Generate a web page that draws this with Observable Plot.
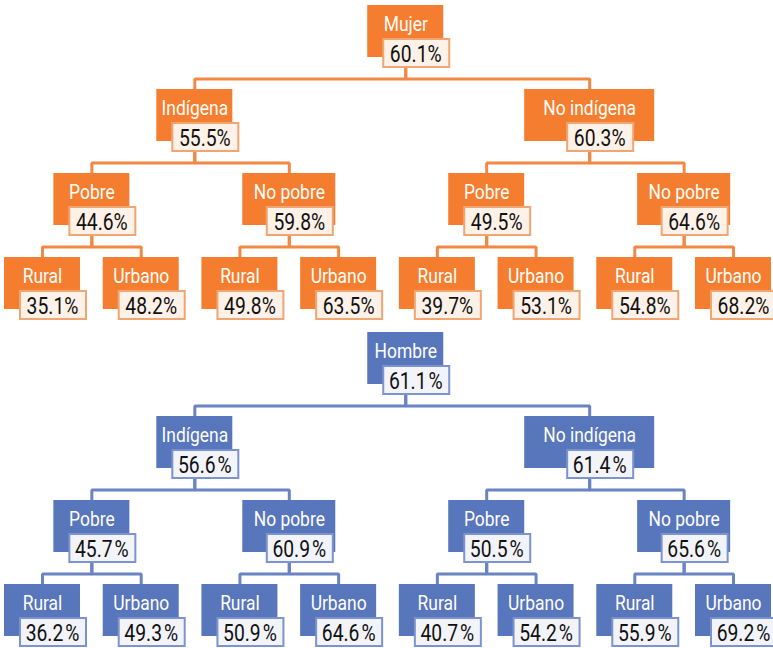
<!DOCTYPE html>
<html>
<head>
<meta charset="utf-8">
<script src="https://cdn.jsdelivr.net/npm/d3@7"></script>
<script src="https://cdn.jsdelivr.net/npm/@observablehq/plot@0.6"></script>
<style>
  html, body { margin: 0; padding: 0; background: #ffffff; }
  #chart svg { display: block; }
</style>
</head>
<body>
<div id="chart"></div>
<script>
// ---- Data ----
const trees = ["Mujer", "Hombre"];
const rootValues = [60.1, 61.1];
const level1Labels = ["Indígena", "No indígena"];
const level2Labels = ["Pobre", "No pobre"];
const level3Labels = ["Rural", "Urbano"];

const mujerLevel1 = [55.5, 60.3];
const mujerLevel2 = [44.6, 59.8, 49.5, 64.6];
const mujerLevel3 = [35.1, 48.2, 49.8, 63.5, 39.7, 53.1, 54.8, 68.2];

const hombreLevel1 = [56.6, 61.4];
const hombreLevel2 = [45.7, 60.9, 50.5, 65.6];
const hombreLevel3 = [36.2, 49.3, 50.9, 64.6, 40.7, 54.2, 55.9, 69.2];

// ---- Styles ----
const palette = {
  Mujer:  {box: "#F47D30", line: "#F38844", vstroke: "#F0A673", vfill: "#FDF1E8", sep: ""},
  Hombre: {box: "#5876BC", line: "#6983C3", vstroke: "#7D93CC", vfill: "#F2F4FA", sep: "\u200A"}
};
const FONT = "Roboto, 'Noto Sans', sans-serif";
const LABEL_SCALE = 0.83, VALUE_SCALE = 0.84;

// layout constants
const X0 = 42, X1 = 733, LEAVES = 8;
const PX = (X1 - X0) / (LEAVES - 1);   // px per x unit
const ROW = 84;                         // px per row
const TREE_GAP = 3.893;                 // rows between trees
const nameW = {"No indígena": 130, "No pobre": 93};
const defaultW = 76;
const NAME_H = 52, VAL_TOP = 34, VAL_H = 28, VAL_W = 66, VAL_DX = 11, LINK_Y = 73.5;
const boxW = label => nameW[label] || defaultW;

// ---- Build tree nodes ----
const valuesByTree = {
  Mujer: [[rootValues[0]], mujerLevel1, mujerLevel2, mujerLevel3],
  Hombre: [[rootValues[1]], hombreLevel1, hombreLevel2, hombreLevel3]
};
const labelsByLevel = [null, level1Labels, level2Labels, level3Labels];

const nodes = [];
trees.forEach((tree, t) => {
  valuesByTree[tree].forEach((vals, level) => {
    vals.forEach((v, i) => {
      const label = level === 0 ? tree : labelsByLevel[level][i % 2];
      nodes.push({
        id: `${tree}-${level}-${i}`,
        tree, level, i, label, value: v,
        parent: level === 0 ? null : `${tree}-${level - 1}-${Math.floor(i / 2)}`,
        row: t * TREE_GAP + level
      });
    });
  });
});
const byId = new Map(nodes.map(d => [d.id, d]));
// leaves evenly spaced; each parent centred over the outer edges of its children's boxes
for (let level = 3; level >= 0; level--) {
  nodes.filter(d => d.level === level).forEach(d => {
    if (level === 3) { d.x = d.i; return; }
    const kids = nodes.filter(k => k.parent === d.id);
    const left = kids[0].x - boxW(kids[0].label) / 2 / PX;
    const right = kids[1].x + boxW(kids[1].label) / 2 / PX;
    d.x = (left + right) / 2;
  });
}

// link polylines (elbow connectors)
const links = [];
nodes.filter(d => d.parent).forEach(d => {
  const p = byId.get(d.parent);
  const yMid = p.row + LINK_Y / ROW;
  [[p.x, p.row + (VAL_TOP + VAL_H) / ROW], [p.x, yMid], [d.x, yMid], [d.x, d.row]]
    .forEach(([x, y]) => links.push({id: d.id, tree: d.tree, x, y}));
});

const marks = [];
trees.forEach(tree => {
  const c = palette[tree];
  const N = nodes.filter(d => d.tree === tree);
  const L = links.filter(d => d.tree === tree);
  marks.push(
    Plot.line(L, {x: "x", y: "y", z: "id", stroke: c.line, strokeWidth: 3, strokeLinejoin: "miter"}),
    Plot.rect(N, {
      x1: d => d.x - boxW(d.label) / 2 / PX,
      x2: d => d.x + boxW(d.label) / 2 / PX,
      y1: d => d.row,
      y2: d => d.row + NAME_H / ROW,
      fill: c.box
    }),
    Plot.text(N, {
      x: "x", y: d => d.row + 18.5 / ROW, text: "label",
      fill: "#FFFDF8", fontSize: 21, fontFamily: FONT, className: "lbl"
    }),
    Plot.rect(N, {
      x1: d => d.x + (VAL_DX - VAL_W / 2) / PX,
      x2: d => d.x + (VAL_DX + VAL_W / 2) / PX,
      y1: d => d.row + VAL_TOP / ROW,
      y2: d => d.row + (VAL_TOP + VAL_H) / ROW,
      fill: c.vfill, stroke: c.vstroke, strokeWidth: 2
    }),
    Plot.text(N, {
      x: d => d.x + (VAL_DX - 1) / PX, y: d => d.row + 49 / ROW,
      text: d => d.value.toFixed(1) + c.sep + "%",
      fill: "#111111", fontSize: 23, fontFamily: FONT, className: "val"
    })
  );
});

const chart = Plot.plot({
  width: 773,
  height: 648,
  margin: 0,
  x: {domain: [0, LEAVES - 1], range: [X0, X1], axis: null},
  y: {domain: [0, 7.5], range: [5, 5 + 7.5 * ROW], axis: null},
  style: {background: "#ffffff", fontFamily: FONT},
  marks
});
document.getElementById("chart").appendChild(chart);

// condense the type horizontally (the original uses a condensed face)
function condense(selector, s) {
  chart.querySelectorAll(selector + " text").forEach(t => {
    const bb = t.getBBox();
    const cx = bb.x + bb.width / 2;
    const prev = t.getAttribute("transform") || "";
    t.setAttribute("transform", `${prev} translate(${cx},0) scale(${s},1) translate(${-cx},0)`);
  });
}
condense(".lbl", LABEL_SCALE);
condense(".val", VALUE_SCALE);
</script>
</body>
</html>
